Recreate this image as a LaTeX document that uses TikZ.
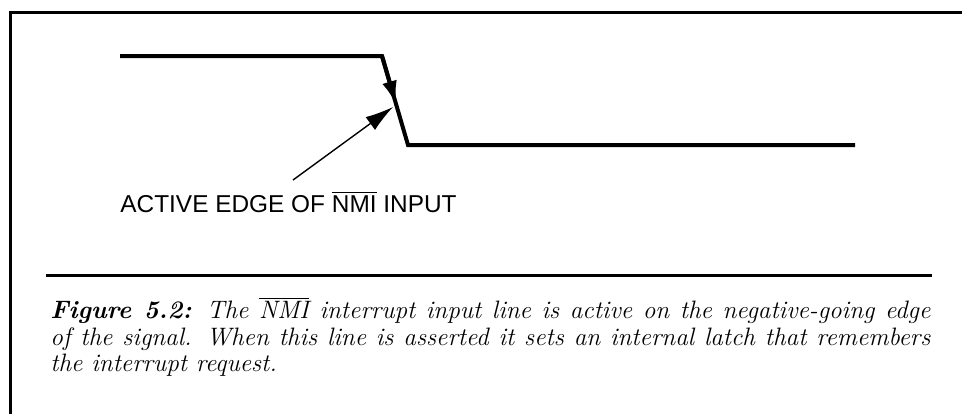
\documentclass[tikz,border=0pt]{standalone}
\usepackage{fontspec}
\setsansfont{Liberation Sans}
\usetikzlibrary{arrows.meta,calc}

\tikzset{
    frameline/.style={line width=1.5pt},
    signal/.style={line width=2pt, line join=miter},
    edgearrow/.style={line width=2pt, -{Latex[length=12pt,width=7.5pt]}},
    pointer/.style={line width=0.7pt, -{Latex[length=14pt,width=8pt]}},
    edgetext/.style={font=\sffamily\fontsize{12.2}{14}\selectfont, inner sep=0pt},
    captext/.style={font=\itshape\fontsize{12.6}{14}\selectfont, inner sep=0pt},
}

\begin{document}
\begin{tikzpicture}[x=0.5pt, y=-0.5pt]  % 1 unit = 1 pixel of the scan

    \useasboundingbox (0,0) rectangle (962,414);

    % Frame (left and top only, right side is cut off)
    \draw[frameline] (962,12) -- (10,12) -- (10,414);

    % Signal corners
    \coordinate (hiStart) at (120,56);
    \coordinate (hiEnd)   at (382,56);
    \coordinate (loStart) at (408,145);
    \coordinate (loEnd)   at (855,145);

    % NMI waveform
    \draw[signal] (hiStart) -- (hiEnd) -- (loStart) -- (loEnd);
    \draw[edgearrow] (hiEnd) -- ($(hiEnd)!0.55!(loStart)$);

    % Label and pointer
    \node[edgetext, anchor=base west] (edgelabel) at (120,212)
        {ACTIVE EDGE OF $\overline{\mbox{NMI}}$ INPUT};
    \coordinate (ptrTail) at (293,180);
    \coordinate (ptrTip)  at (393,107);
    \draw[pointer] (ptrTail) -- (ptrTip);

    % Separator rule
    \draw[frameline] (46,275) -- (932,275);

    % Caption
    \node[captext, anchor=base west] (cap1) at (50,318)
        {\makebox[440pt][s]{\textbf{Figure 5.2:} The $\overline{\mbox{NMI}}$ interrupt input line is active on the negative-going edge}};
    \node[captext, anchor=base west] (cap2) at (50,345)
        {\makebox[440pt][s]{of the signal. When this line is asserted it sets an internal latch that remembers}};
    \node[captext, anchor=base west] (cap3) at (50,371)
        {the interrupt request.};

\end{tikzpicture}
\end{document}
